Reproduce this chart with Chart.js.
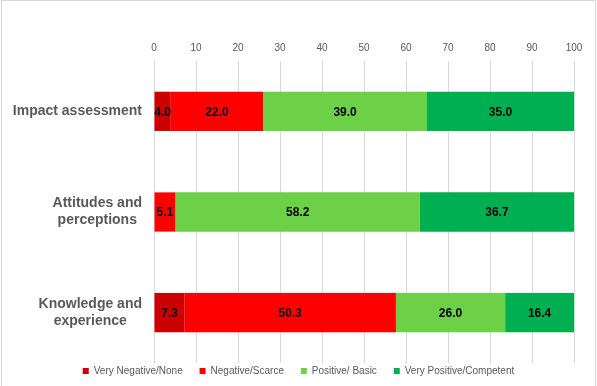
<!DOCTYPE html>
<html>
<head>
<meta charset="utf-8">
<script src="https://cdn.jsdelivr.net/npm/chart.js@4.4.1/dist/chart.umd.min.js"></script>
<style>
html,body{margin:0;padding:0;background:#fff;}
#wrap{width:597px;height:386px;position:relative;}
</style>
</head>
<body>
<div id="wrap"><canvas id="c" width="597" height="386"></canvas></div>
<script>
const categories = [["Impact assessment"], ["Attitudes and", "perceptions"], ["Knowledge and", "experience"]];
const seriesNames = ["Very Negative/None", "Negative/Scarce", "Positive/ Basic", "Very Positive/Competent"];
const veryNegative = [4.0, 0, 7.3];
const negative = [22.0, 5.1, 50.3];
const positive = [39.0, 58.2, 26.0];
const veryPositive = [35.0, 36.7, 16.4];
const xTicks = [0, 10, 20, 30, 40, 50, 60, 70, 80, 90, 100];
const colors = ["#CC0000", "#FF0000", "#6CD147", "#00B050"];

const FONT = "'Liberation Sans', Arial, sans-serif";

const borderPlugin = {
  id: 'frame',
  beforeDraw(chart) {
    const ctx = chart.ctx;
    ctx.save();
    ctx.fillStyle = '#fff';
    ctx.fillRect(0, 0, chart.width, chart.height);
    ctx.strokeStyle = '#d9d9d9';
    ctx.lineWidth = 1;
    ctx.strokeRect(1.5, 0.5, chart.width - 3, chart.height + 2);
    ctx.restore();
  }
};

const dataLabelPlugin = {
  id: 'dataLabels',
  afterDatasetsDraw(chart) {
    const ctx = chart.ctx;
    ctx.save();
    ctx.font = "bold 12px " + FONT;
    ctx.fillStyle = '#000';
    ctx.textAlign = 'center';
    ctx.textBaseline = 'middle';
    chart.data.datasets.forEach((ds, di) => {
      const meta = chart.getDatasetMeta(di);
      meta.data.forEach((el, i) => {
        const v = ds.data[i];
        if (!v) return;
        const p = el.getCenterPoint();
        ctx.fillText(v.toFixed(1), p.x, p.y + 1);
      });
    });
    ctx.restore();
  }
};

const catLabelPlugin = {
  id: 'catLabels',
  afterDraw(chart) {
    const ctx = chart.ctx;
    const y = chart.scales.y;
    ctx.save();
    ctx.font = "bold 14px " + FONT;
    ctx.fillStyle = '#595959';
    ctx.textAlign = 'center';
    ctx.textBaseline = 'middle';
    const right = 142;
    const lh = 17;
    chart.data.labels.forEach((lines, i) => {
      const cy = y.getPixelForValue(i);
      const w = Math.max(...lines.map(l => ctx.measureText(l).width));
      const cx = right - w / 2;
      const y0 = cy - (lines.length - 1) * lh / 2;
      lines.forEach((l, k) => ctx.fillText(l, cx, y0 + k * lh));
    });
    ctx.restore();
  }
};

const seriesData = [veryNegative, negative, positive, veryPositive];

new Chart(document.getElementById('c'), {
  type: 'bar',
  data: {
    labels: categories,
    datasets: seriesNames.map((n, i) => ({
      label: n,
      data: seriesData[i],
      backgroundColor: colors[i],
      borderWidth: 0,
      categoryPercentage: 1,
      barPercentage: 0.39
    }))
  },
  options: {
    indexAxis: 'y',
    responsive: false,
    animation: false,
    devicePixelRatio: 1,
    layout: { padding: { left: 0, right: 0, top: 0, bottom: 0 } },
    scales: {
      x: {
        position: 'top',
        stacked: true,
        min: 0,
        max: 100,
        afterBuildTicks(s) { s.ticks = xTicks.map(v => ({ value: v })); },
        afterFit(s) { s.height = 61; },
        ticks: { color: '#595959', font: { family: FONT, size: 10 }, padding: 7, autoSkip: false },
        grid: { color: '#d9d9d9', drawTicks: false },
        border: { display: false }
      },
      y: {
        stacked: true,
        afterFit(s) { s.width = 154; },
        ticks: { display: false },
        grid: { display: false },
        border: { display: false }
      },
      spacer: {
        type: 'linear',
        position: 'right',
        display: true,
        afterFit(s) { s.width = 23; },
        ticks: { display: false },
        grid: { display: false },
        border: { display: false }
      }
    },
    plugins: {
      tooltip: { enabled: false },
      legend: {
        position: 'bottom',
        labels: {
          color: '#595959',
          font: { family: FONT, size: 10 },
          boxWidth: 6,
          boxHeight: 6,
          padding: 3,
          generateLabels(chart) {
            const items = Chart.defaults.plugins.legend.labels.generateLabels(chart);
            items.forEach((it, i) => {
              it.lineWidth = 0;
              if (i < items.length - 1) it.text = it.text + '     ';
            });
            return items;
          }
        }
      }
    }
  },
  plugins: [borderPlugin, dataLabelPlugin, catLabelPlugin]
});
</script>
</body>
</html>
